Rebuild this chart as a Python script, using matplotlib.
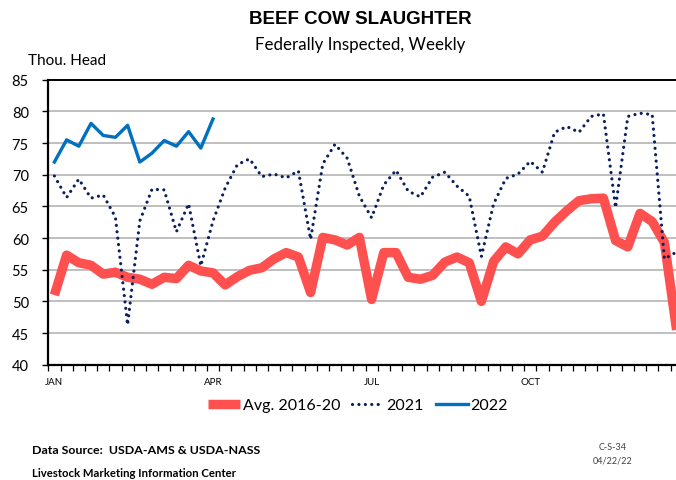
import matplotlib
matplotlib.use("Agg")
import matplotlib.pyplot as plt
import numpy as np
from matplotlib.ticker import FixedLocator, NullFormatter

# ---------------- data ----------------
month_labels = ["JAN", "APR", "JUL", "OCT"]
month_weeks = [0, 13, 26, 39]

avg_2016_20 = [51.0, 57.3, 56.1, 55.7, 54.3, 54.6, 53.8, 53.5, 52.7, 53.8,
               53.6, 55.7, 54.8, 54.5, 52.6, 53.9, 54.9, 55.3, 56.7, 57.7,
               57.0, 51.4, 60.1, 59.7, 58.9, 60.1, 50.3, 57.7, 57.7, 53.8,
               53.5, 54.1, 56.2, 57.0, 56.1, 50.0, 56.3, 58.6, 57.5, 59.7,
               60.3, 62.5, 64.3, 65.9, 66.2, 66.3, 59.6, 58.6, 63.9, 62.6,
               59.3, 45.5]

y2021 = [69.8, 66.4, 69.3, 66.3, 66.8, 63.3, 46.3, 62.7, 67.7, 67.6,
         61.0, 65.4, 55.6, 62.7, 67.9, 71.6, 72.5, 69.7, 70.1, 69.5,
         70.6, 59.8, 71.7, 74.8, 72.6, 66.6, 63.2, 68.4, 70.7, 67.4,
         66.5, 69.6, 70.4, 68.2, 66.6, 57.1, 65.4, 69.4, 70.1, 72.1,
         70.4, 76.7, 77.6, 76.7, 79.2, 79.6, 64.8, 79.2, 79.7, 79.5,
         56.7, 57.8]

y2022 = [72.0, 75.5, 74.5, 78.1, 76.2, 75.9, 77.8, 72.0, 73.4, 75.4,
         74.5, 76.8, 74.2, 78.8]

y_ticks = [40, 45, 50, 55, 60, 65, 70, 75, 80, 85]

# ---------------- style ----------------
RED = "#FF5050"
NAVY = "#0A1F5C"
BLUE = "#0070C0"
GRID = "#BFBFBF"
BODY = ["Lato", "DejaVu Sans"]

W, H = 676, 481
fig = plt.figure(figsize=(W / 100, H / 100), dpi=100)

left_px, right_px = 48.3, 48.3 + 52 * 12.2
top_px, bot_px = 80.7, 365.7
ax = fig.add_axes([left_px / W, 1 - bot_px / H,
                   (right_px - left_px) / W, (bot_px - top_px) / H])

ax.set_xlim(-0.5, 51.5)
ax.set_ylim(40, 85)

ax.set_yticks(y_ticks)
ax.yaxis.grid(True, color=GRID, linewidth=1.4)
ax.set_axisbelow(True)

x_avg = np.arange(len(avg_2016_20))
x21 = np.arange(len(y2021))
x22 = np.arange(len(y2022))

ax.plot(x_avg, avg_2016_20, color=RED, lw=6.8, solid_joinstyle="round",
        solid_capstyle="butt", label="Avg. 2016-20", zorder=3)
ax.plot(x21, y2021, color=NAVY, lw=2.3, linestyle=(0, (0.01, 2.0)),
        dash_capstyle="round", label="2021", zorder=4)
ax.plot(x22, y2022, color=BLUE, lw=2.4, solid_joinstyle="round",
        label="2022", zorder=5)

# spines
ax.spines["right"].set_visible(False)
ax.spines["left"].set_linewidth(1.6)
ax.spines["bottom"].set_linewidth(1.6)
ax.spines["top"].set_linewidth(1.4)
for s in ["left", "bottom", "top"]:
    ax.spines[s].set_color("black")

# ticks
ax.tick_params(axis="y", direction="out", length=4, width=1.0, color="black",
               labelsize=10.5, pad=10)
for lab in ax.get_yticklabels():
    lab.set_family(BODY)
ax.set_xticks(month_weeks)
ax.set_xticklabels(month_labels, fontsize=7, family=BODY)
ax.tick_params(axis="x", which="major", length=0, pad=9)
ax.xaxis.set_minor_locator(FixedLocator(np.arange(-0.5, 52, 1.0)))
ax.xaxis.set_minor_formatter(NullFormatter())
ax.tick_params(axis="x", which="minor", direction="out", length=4, width=0.9,
               color="black")

# legend
leg = ax.legend(loc="center", bbox_to_anchor=(358 / W, 1 - 406 / H),
                bbox_transform=fig.transFigure, ncol=3, frameon=False,
                handlelength=2.0, handletextpad=0.15, columnspacing=0.75,
                prop={"family": BODY, "size": 11.5})

# titles
fig.text(360 / W, 1 - 20 / H, "BEEF COW SLAUGHTER", ha="center", va="center",
         fontsize=13.5, fontweight="bold", family=["Liberation Sans", "DejaVu Sans"])
fig.text(360 / W, 1 - 45 / H, "Federally Inspected, Weekly", ha="center",
         va="center", fontsize=12.2, family=BODY)
fig.text(28 / W, 1 - 61 / H, "Thou. Head", ha="left", va="center",
         fontsize=11, family=BODY)

# footer
fig.text(32 / W, 1 - 451 / H, "Data Source:  USDA-AMS & USDA-NASS", ha="left",
         va="center", fontsize=8.9, fontweight="bold", family=BODY)
fig.text(32 / W, 1 - 474 / H, "Livestock Marketing Information Center",
         ha="left", va="center", fontsize=8.2, fontweight="bold", family=BODY)
fig.text(613 / W, 1 - 448 / H, "C-S-34", ha="center", va="center",
         fontsize=6.5, color="#404040", family=BODY)
fig.text(613 / W, 1 - 461 / H, "04/22/22", ha="center", va="center",
         fontsize=6.5, color="#404040", family=BODY)

fig.savefig("out.png", dpi=100)
